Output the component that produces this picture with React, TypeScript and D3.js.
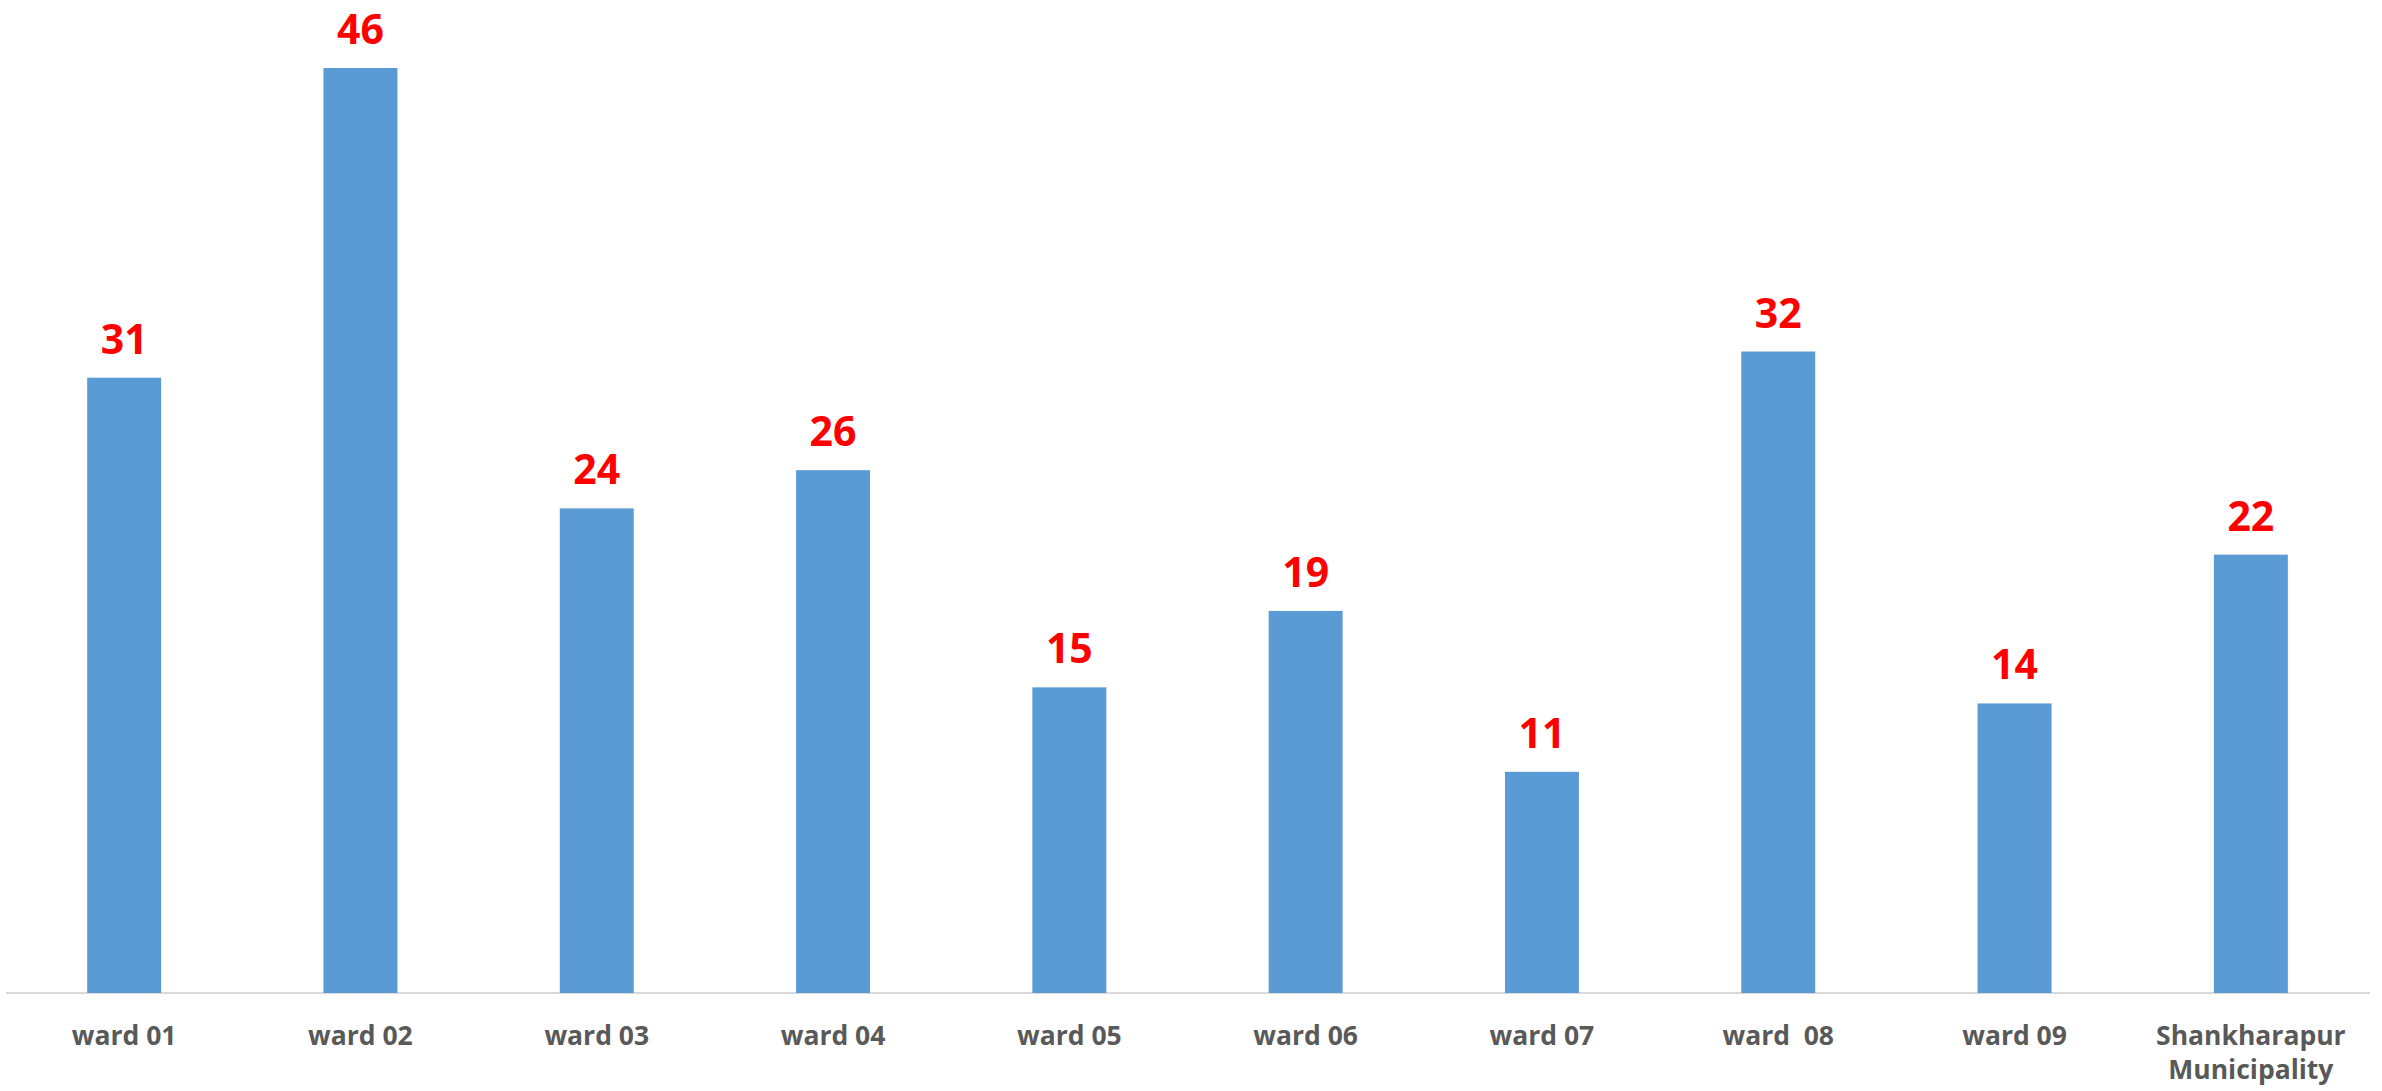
import React from "react";
import * as d3 from "d3";

const categories: string[][] = [
  ["ward 01"],
  ["ward 02"],
  ["ward 03"],
  ["ward 04"],
  ["ward 05"],
  ["ward 06"],
  ["ward 07"],
  ["ward  08"],
  ["ward 09"],
  ["Shankharapur", "Municipality"],
];
// values; labels show them rounded
const values: number[] = [30.6, 46.0, 24.1, 26.0, 15.2, 19.0, 11.0, 31.9, 14.4, 21.8];

const W = 2382;
const H = 1091;
const baseline = 993;
const topY = 68;

export default function App() {
  const keys = categories.map((c, i) => String(i));
  const x = d3.scaleBand<string>().domain(keys).range([6, 2369]).paddingInner(0.687).paddingOuter(0.3435);
  const y = d3.scaleLinear().domain([0, 46]).range([baseline, topY]);
  return (
    <svg
      width={W}
      height={H}
      style={{ position: "absolute", left: 0, top: 0, background: "#fff" }}
    >
      <line x1={6} x2={2370} y1={baseline} y2={baseline} stroke="#d9d9d9" strokeWidth={2} />
      {values.map((v, i) => (
        <rect
          key={"b" + i}
          x={x(keys[i])!}
          y={y(v)}
          width={x.bandwidth()}
          height={baseline - y(v)}
          fill="#5B9BD5"
        />
      ))}
      {values.map((v, i) => (
        <text
          key={"l" + i}
          x={x(keys[i])! + x.bandwidth() / 2}
          y={y(v) - 24}
          textAnchor="middle"
          fontFamily="'Open Sans', sans-serif"
          fontWeight={700}
          fontSize={41}
          fill="#FF0000"
        >
          {Math.round(v)}
        </text>
      ))}
      {categories.map((c, i) => (
        <text
          key={"c" + i}
          x={x(keys[i])! + x.bandwidth() / 2}
          y={1045}
          textAnchor="middle"
          fontFamily="'Open Sans', sans-serif"
          fontWeight={700}
          fontSize={26.5}
          fill="#595959"
          style={{ whiteSpace: "pre" }}
        >
          {c.map((line, j) => (
            <tspan key={j} x={x(keys[i])! + x.bandwidth() / 2} dy={j === 0 ? 0 : 34}>
              {line}
            </tspan>
          ))}
        </text>
      ))}
    </svg>
  );
}
